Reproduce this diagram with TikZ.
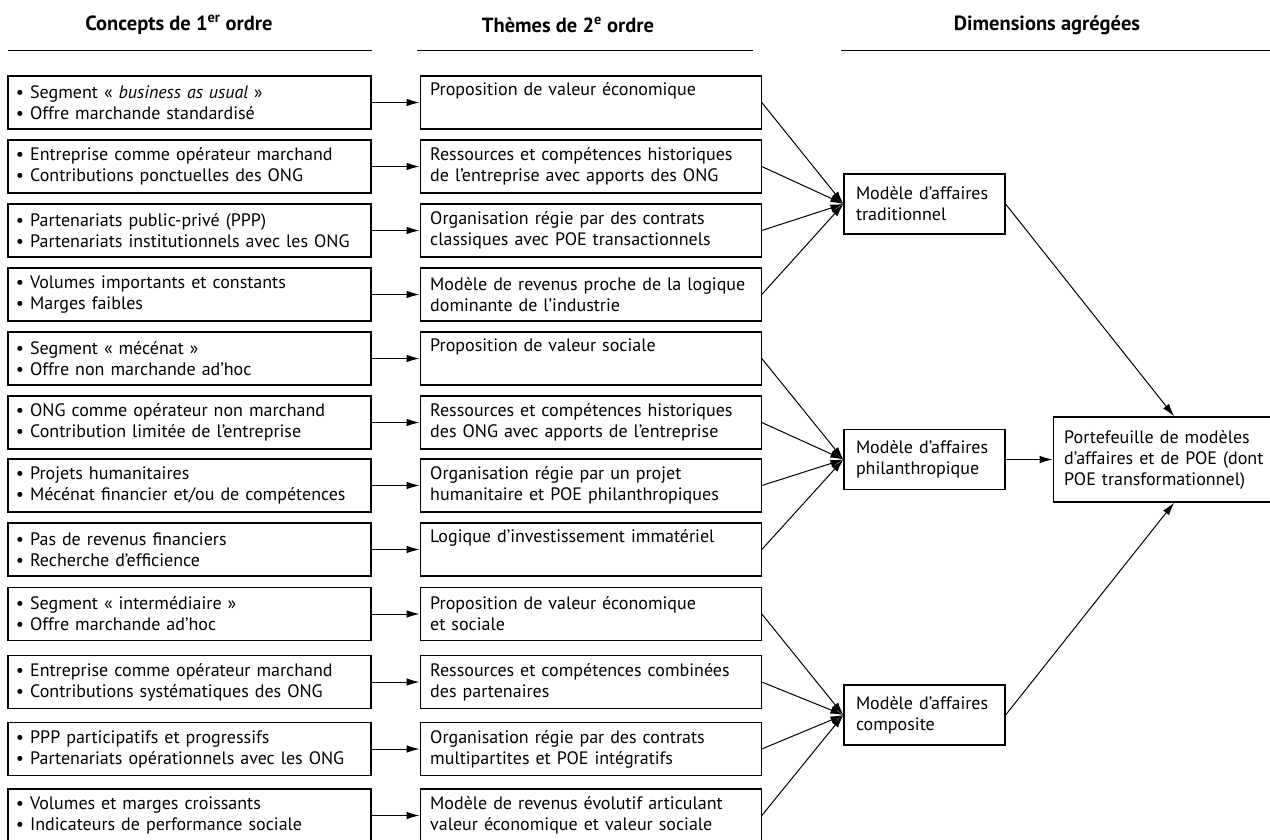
\documentclass[tikz,border=0pt]{standalone}
\usepackage{fontspec}
\setmainfont{PT Sans}
\usepackage{tikz}
\usetikzlibrary{arrows.meta}
\usetikzlibrary{positioning,calc}
\tikzstyle{arrow}=[-{Latex[length=13pt,width=7.5pt]}, line width=1pt]
\tikzstyle{box}=[draw, line width=1.2pt, align=left, inner ysep=0pt, font=\fontsize{18}{21}\selectfont]
\tikzset{
    concept/.style={box, text width=347pt, inner xsep=8pt, minimum height=53pt},
    theme/.style={box, text width=321pt, inner xsep=10pt, minimum height=53pt},
    dimension/.style={box, text width=137pt, inner xsep=12pt, minimum height=60pt},
    header/.style={font=\fontsize{20.5}{24}\selectfont\bfseries}
}

\begin{document}
\begin{tikzpicture}[x=1pt, y=-1pt]
 \useasboundingbox (0,0) rectangle (1270,839);

 % headers
 \node[header] (h1) at (179,25) {Concepts de 1\textsuperscript{er} ordre};
 \node[header] (h2) at (568,25) {Thèmes de 2\textsuperscript{e} ordre};
 \node[header] (h3) at (1047,25) {Dimensions agrégées};
 \draw[line width=1pt] (8,50) -- (372,50);
 \draw[line width=1pt] (417,50) -- (753,50);
 \draw[line width=1pt] (841,50) -- (1294,50);

 % traditionnel
 \node [concept] (c1) at (189.5,102.5) {• Segment « \textit{business as usual} »\\• Offre marchande standardisé};
 \node [concept] (c2) at (189.5,166.5) {• Entreprise comme opérateur marchand\\• Contributions ponctuelles des ONG};
 \node [concept] (c3) at (189.5,230.5) {• Partenariats public-privé (PPP)\\• Partenariats institutionnels avec les ONG};
 \node [concept] (c4) at (189.5,294.5) {• Volumes importants et constants\\• Marges faibles};
 % philanthropique
 \node [concept] (c5) at (189.5,358.5) {• Segment « mécénat »\\• Offre non marchande ad’hoc};
 \node [concept] (c6) at (189.5,422.5) {• ONG comme opérateur non marchand\\• Contribution limitée de l’entreprise};
 \node [concept] (c7) at (189.5,485.5) {• Projets humanitaires\\• Mécénat financier et/ou de compétences};
 \node [concept] (c8) at (189.5,549.5) {• Pas de revenus financiers\\• Recherche d’efficience};
 % composite
 \node [concept] (c9) at (189.5,614) {• Segment « intermédiaire »\\• Offre marchande ad’hoc};
 \node [concept] (c10) at (189.5,682) {• Entreprise comme opérateur marchand\\• Contributions systématiques des ONG};
 \node [concept] (c11) at (189.5,749) {• PPP participatifs et progressifs\\• Partenariats opérationnels avec les ONG};
 \node [concept] (c12) at (189.5,815.5) {• Volumes et marges croissants\\• Indicateurs de performance sociale};

 \node [theme, right=48pt of c1] (t1) {Proposition de valeur économique\\\strut};
 \node [theme, right=48pt of c2] (t2) {Ressources et compétences historiques\\de l’entreprise avec apports des ONG};
 \node [theme, right=48pt of c3] (t3) {Organisation régie par des contrats\\classiques avec POE transactionnels};
 \node [theme, right=48pt of c4] (t4) {Modèle de revenus proche de la logique\\dominante de l’industrie};
 \node [theme, right=48pt of c5] (t5) {Proposition de valeur sociale\\\strut};
 \node [theme, right=48pt of c6] (t6) {Ressources et compétences historiques\\des ONG avec apports de l’entreprise};
 \node [theme, right=48pt of c7] (t7) {Organisation régie par un projet\\humanitaire et POE philanthropiques};
 \node [theme, right=48pt of c8] (t8) {Logique d’investissement immatériel\\\strut};
 \node [theme, right=48pt of c9] (t9) {Proposition de valeur économique\\et sociale};
 \node [theme, right=48pt of c10] (t10) {Ressources et compétences combinées\\des partenaires};
 \node [theme, right=48pt of c11] (t11) {Organisation régie par des contrats\\multipartites et POE intégratifs};
 \node [theme, right=48pt of c12] (t12) {Modèle de revenus évolutif articulant\\valeur économique et valeur sociale};

 \node [dimension] (trad) at (924.5,204) {Modèle d’affaires\\traditionnel};
 \node [dimension] (phil) at (924.5,459.5) {Modèle d’affaires\\philanthropique};
 \node [dimension] (compo) at (924.5,715) {Modèle d’affaires\\composite};
 \node [box, right=47pt of phil, text width=220pt, inner xsep=11pt, minimum height=85pt] (port) {Portefeuille de modèles\\d’affaires et de POE (dont\\POE transformationnel)};

 \foreach \i in {1,...,12}
    \draw[arrow] (c\i.east) -- (t\i.west);

 % dimensions
 \foreach \i in {1,...,4}
    \draw[arrow] (t\i.east) -- (trad.west);
 \foreach \i in {5,...,8}
    \draw[arrow] (t\i.east) -- (phil.west);
 \foreach \i in {9,...,12}
    \draw[arrow] (t\i.east) -- (compo.west);

 \draw[arrow] (trad.east) -- (port.north);
 \draw[arrow] (phil.east) -- (port.west);
 \draw[arrow] (compo.east) -- (port.south);

\end{tikzpicture}
\end{document}
